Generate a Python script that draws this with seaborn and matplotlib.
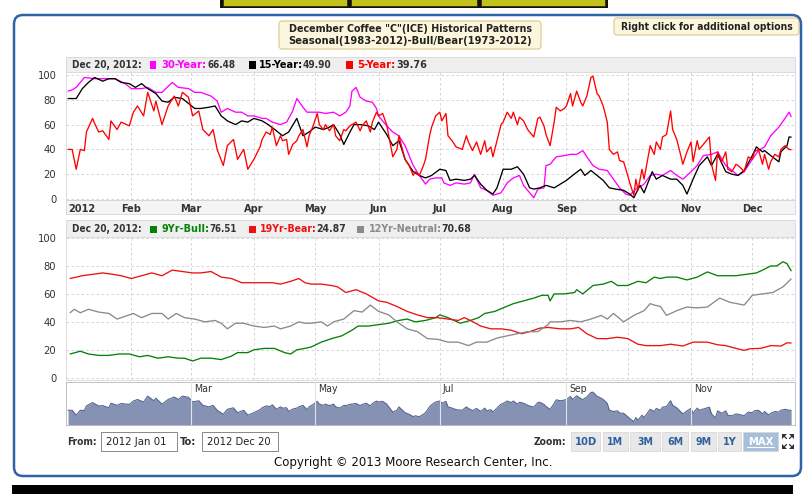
import numpy as np
import pandas as pd
import matplotlib
matplotlib.use("Agg")
import matplotlib.pyplot as plt
from matplotlib import font_manager as fm
from matplotlib.patches import Rectangle, FancyBboxPatch, Polygon
import seaborn as sns

# ---------------- data (day offset from 2012-01-01, value) ----------------
YEAR_START = "2012-01-01"
month_labels = ["2012", "Feb", "Mar", "Apr", "May", "Jun", "Jul", "Aug", "Sep", "Oct", "Nov", "Dec"]
nav_labels = ["Mar", "May", "Jul", "Sep", "Nov"]
y_ticks = [0, 20, 40, 60, 80, 100]

seasonal_names = ["30-Year", "15-Year", "5-Year"]
seasonal_last = ["66.48", "49.90", "39.76"]
regime_names = ["9Yr-Bull", "19Yr-Bear", "12Yr-Neutral"]
regime_last = ["76.51", "24.87", "70.68"]

s30 = [(0,87),(2,88),(4,90),(6,94),(8,98),(13,97),(18,97),(23,97),(28,93),(31,89),(36,89),(39,90),
       (43,86),(46,86),(51,94),(54,90),(59,89),(62,86),(65,86),(70,83),(73,79),(75,70),(78,73),(82,70),
       (85,70),(88,67),(91,67),(95,65),(97,65),(100,62),(104,60),(107,62),(110,71),(112,81),(115,74),
       (117,70),(120,70),(123,70),(126,69),(130,70),(133,67),(136,70),(138,75),(139,87),(141,90),(143,82),
       (146,79),(149,78),(151,73),(152,67),(156,59),(159,54),(162,51),(165,43),(167,35),(169,27),(172,19),
       (175,12),(177,16),(180,17),(183,17),(184,13),(187,11),(190,13),(194,12),(197,13),(199,20),(202,9),
       (205,7),(208,3),(212,5),(215,13),(218,17),(221,19),(223,11),(225,7),(228,1),(230,8),(233,9),
       (234,27),(236,28),(239,34),(243,35),(246,36),(249,36),(252,39),(254,34),(257,27),(260,24),(264,23),
       (267,16),(270,9),(273,4),(275,3),(278,8),(282,12),(285,19),(288,20),(291,19),(295,23),(298,19),
       (301,16),(305,22),(308,27),(311,35),(315,36),(318,38),(322,27),(325,23),(328,19),(331,22),(335,32),
       (338,39),(341,42),(344,51),(348,58),(351,65),(353,70),(354,66.48)]

s15 = [(0,81),(4,81),(7,89),(10,94),(13,98),(17,95),(20,97),(23,97),(26,94),(30,93),(33,90),(36,93),
       (39,89),(43,85),(46,79),(49,78),(52,82),(56,81),(59,77),(62,73),(65,73),(69,74),(72,75),(75,67),
       (78,63),(82,60),(85,63),(88,62),(91,65),(95,63),(98,60),(102,55),(105,51),(108,54),(112,65),
       (115,51),(118,54),(121,58),(125,56),(128,58),(130,60),(133,52),(135,44),(138,54),(140,60),(143,60),
       (147,59),(150,56),(152,62),(156,52),(159,43),(162,47),(165,32),(169,22),(172,19),(175,17),(178,19),
       (182,24),(185,23),(187,15),(190,16),(194,15),(197,16),(199,19),(202,12),(205,7),(208,4),(210,9),
       (213,24),(217,24),(220,26),(223,20),(226,9),(228,8),(231,9),(234,11),(238,9),(241,12),(244,15),
       (247,19),(251,24),(253,19),(256,23),(259,19),(262,15),(265,9),(268,8),(272,7),(275,4),(277,1),
       (280,11),(282,5),(286,22),(288,16),(291,19),(295,16),(298,16),(301,11),(303,4),(306,16),(309,27),
       (313,34),(315,27),(318,36),(322,22),(325,20),(328,19),(331,23),(335,35),(337,42),(340,38),(341,39),
       (344,35),(348,30),(349,38),(352,43),(353,50),(354,49.90)]

s5 = [(0,40),(2,40),(4,24),(6,40),(8,39),(9,54),(12,65),(13,61),(15,54),(17,55),(20,48),(21,63),
      (24,56),(26,62),(30,59),(32,70),(34,75),(37,67),(39,86),(42,71),(43,79),(46,60),(49,75),(52,83),
      (54,75),(56,86),(59,82),(61,67),(64,71),(66,56),(69,51),(71,56),(73,40),(76,27),(78,43),(81,48),
      (83,32),(86,40),(88,24),(91,32),(94,42),(95,48),(97,54),(99,52),(100,58),(102,43),(104,51),(105,47),
      (107,48),(108,36),(110,44),(112,47),(113,51),(115,56),(117,42),(118,51),(120,59),(122,69),(123,60),
      (125,56),(126,60),(128,55),(130,60),(131,51),(133,47),(135,56),(136,55),(138,59),(141,62),(143,55),
      (144,59),(146,63),(148,54),(149,62),(151,70),(152,67),(154,69),(156,60),(157,51),(159,34),(161,40),
      (162,51),(164,38),(165,32),(167,27),(169,19),(170,22),(172,19),(174,27),(175,32),(177,51),(178,58),
      (180,67),(182,70),(183,63),(185,69),(186,51),(188,47),(190,42),(193,40),(195,51),(196,46),(198,39),
      (200,46),(202,36),(204,47),(205,38),(207,42),(208,34),(210,47),(212,60),(213,62),(215,70),(217,65),
      (218,70),(220,60),(221,66),(223,63),(225,56),(226,54),(228,50),(230,65),(231,66),(233,59),(234,52),
      (236,43),(238,62),(239,74),(241,71),(243,73),(244,75),(246,85),(247,75),(249,87),(251,78),(252,75),
      (254,83),(256,98),(257,99),(259,85),(260,83),(262,75),(264,62),(265,40),(267,36),(269,38),(270,31),
      (272,30),(274,19),(275,13),(277,3),(278,16),(279,7),(281,24),(282,16),(285,43),(287,36),(288,46),
      (290,40),(291,50),(293,52),(295,71),(296,56),(298,48),(300,35),(301,28),(303,38),(305,46),(306,30),
      (308,47),(309,40),(311,44),(314,50),(315,28),(317,15),(318,38),(320,30),(322,38),(323,24),(325,22),
      (327,28),(328,27),(330,24),(331,22),(333,34),(335,32),(336,38),(338,40),(340,28),(341,36),(343,24),
      (344,30),(346,36),(348,34),(349,40),(351,43),(353,40),(354,39.76)]

bull = [(1,17),(6,19),(10,17),(15,16),(20,16),(25,17),(30,17),(35,15),(39,16),(44,14),(49,15),(54,14),
        (57,14),(61,12),(65,14),(70,14),(75,13),(80,15.5),(83,18),(88,18),(91,20),(96,21),(101,21),
        (106,18),(109,17),(112,20),(116,21),(119,22),(124,25.5),(129,28),(134,30),(139,34),(142,37),
        (147,37),(152,38),(157,39),(162,41),(166,42),(170,40),(175,41),(180,43),(182,45),(186,43),(189,41),
        (192,39),(197,41),(201,43),(204,46),(209,47.5),(214,50.6),(218,53),(223,55),(228,57),(232,59),
        (235,59),(236,55),(238,60),(243,60),(248,61),(249,63),(252,60),(257,66),(262,67),(266,69),(269,66),
        (274,66),(279,69),(283,68),(287,72),(290,71),(293,72),(298,72),(303,70),(308,72),(313,75.7),
        (318,73),(322,73),(327,73),(332,74),(337,75),(340,77),(344,80),(347,80),(350,83),(352,81.6),
        (354,76.51)]

bear = [(1,71),(7,73),(12,74),(17,75),(22,74),(26,73),(31,71),(36,73),(41,75),(46,73),(51,77),(56,76),
        (61,75),(65,75),(70,76),(75,72),(80,71),(85,68),(90,68),(95,68),(100,68),(104,67),(109,69),
        (113,71),(116,68),(119,67),(124,67),(129,66),(132,65),(136,61),(141,63),(146,60),(152,55),(156,54),
        (161,51),(166,47.5),(171,45),(176,43),(181,43),(186,42),(191,41),(194,43),(197,41),(202,37),
        (207,35),(212,35),(217,34),(222,31.5),(226,33),(231,35.5),(235,36),(241,35),(246,35),(250,36),
        (254,31.5),(259,28),(264,28),(269,29),(274,28),(279,24),(283,23),(290,23),(295,24),(301,22.7),
        (306,25.5),(313,25.5),(318,23.6),(322,23),(327,21),(331,19.6),(334,20.8),(339,21),(344,23),
        (349,22.7),(352,25),(354,24.87)]

neutral = [(1,46.5),(3,49),(6,46.5),(10,49),(15,47),(20,46),(24,42),(28,44),(32,46),(36,43),(41,46),
           (46,46),(49,42),(53,46),(57,43),(62,42),(67,40),(72,41),(75,39),(78,35),(82,39),(86,39),(91,37),
           (96,36),(101,37),(104,35),(109,37),(113,40),(116,39),(119,39),(124,40),(127,37),(130,40),(135,42),
           (140,48),(144,47),(148,52),(152,47.5),(157,45),(161,40),(166,35),(171,33),(176,28),(181,27.5),
           (186,25.5),(191,25.5),(196,23),(200,25.5),(205,25.5),(210,28.4),(215,30),(220,31.5),(225,33),
           (230,33),(235,38),(236,40),(241,40),(246,41),(251,40),(256,42),(261,44.6),(264,42),(267,46),
           (272,40),(277,44.6),(282,48),(285,53),(287,52),(290,51),(293,44.6),(298,48),(303,50.6),(308,50),
           (313,50.6),(319,57),(324,54),(331,52),(335,59),(340,60),(345,61),(350,65),(354,70.68)]

# ---------------- font choice (narrow face if one is installed) ----------------
_fonts = {(f.name, f.stretch) for f in fm.fontManager.ttflist}
if any(n == "Liberation Sans Narrow" for n, _ in _fonts):
    FAM, STRETCH = "Liberation Sans Narrow", "normal"
elif any(n == "DejaVu Sans" and s in ("condensed", "semi-condensed") for n, s in _fonts):
    FAM, STRETCH = "DejaVu Sans", "condensed"
else:
    FAM, STRETCH = "Liberation Sans", "normal"

# ---------------- helpers ----------------
W, H = 806, 494
base = pd.Timestamp(YEAR_START)


def series(pairs):
    d, v = zip(*pairs)
    return base + pd.to_timedelta(list(d), unit="D"), np.array(v, dtype=float)


sns.set_theme(style="white")
plt.rcParams["font.family"] = [FAM, "DejaVu Sans"]
plt.rcParams["font.stretch"] = STRETCH
plt.rcParams["axes.unicode_minus"] = False

fig = plt.figure(figsize=(W / 100, H / 100), dpi=100)
fig.patch.set_facecolor("white")
renderer = fig.canvas.get_renderer()


def frac(x0, y0, x1, y1):
    return [x0 / W, 1 - y1 / H, (x1 - x0) / W, (y1 - y0) / H]


def box(x0, y0, x1, y1, fc, ec="none", lw=0.8, z=-5, rounding=0.0):
    if rounding > 0:
        p = FancyBboxPatch((x0 / 100, (H - y1) / 100), (x1 - x0) / 100, (y1 - y0) / 100,
                           boxstyle=f"round,pad=0,rounding_size={rounding/100}",
                           transform=fig.dpi_scale_trans, fc=fc, ec=ec, lw=lw, zorder=z)
    else:
        p = Rectangle((x0 / 100, (H - y1) / 100), (x1 - x0) / 100, (y1 - y0) / 100,
                      transform=fig.dpi_scale_trans, fc=fc, ec=ec, lw=lw, zorder=z)
    fig.add_artist(p)
    return p


def ftext(x, y, s, width=None, **kw):
    """Place text at pixel coords; shrink it only if it is wider than the reference width."""
    kw.setdefault("ha", "left")
    kw.setdefault("va", "center")
    kw.setdefault("fontstretch", STRETCH)
    t = fig.text(x / W, 1 - y / H, s, **kw)
    if width is not None:
        w = t.get_window_extent(renderer).width
        if w > width * 1.06:
            t.set_fontsize(t.get_fontsize() * width * 1.06 / w)
    return t


month_starts = pd.date_range(YEAR_START, periods=12, freq="MS")
x_left = base - pd.Timedelta(days=1.0)
x_right = base + pd.Timedelta(days=355.9)
GRID = dict(color="#cfcfcf", lw=0.6, ls=(0, (3, 3)))
DARK = "#333333"

# ---------------- page decorations ----------------
box(220, -2, 608, 8, "#111111", z=-6)
for bx0, bx1 in [(223, 347), (351, 477), (481, 605)]:
    box(bx0, -2, bx1, 6, "#c2c21c", ec="#333300", lw=0.6, z=-5)
box(12, 485, 793, 495, "black", z=-6)
box(14, 15, 801, 476, "none", ec="#2f63a6", lw=1.8, z=50, rounding=9)

# title boxes
box(279, 21, 541, 49, "#fcf7dc", ec="#d9c98f", lw=0.8, z=5, rounding=3)
ftext(410.5, 29.5, 'December Coffee "C"(ICE) Historical Patterns', width=231, ha="center",
      fontsize=8, fontweight="bold", color="#222222", zorder=6)
ftext(410.5, 41.5, "Seasonal(1983-2012)-Bull/Bear(1973-2012)", width=237, ha="center",
      fontsize=8, fontweight="bold", color="#222222", zorder=6)
box(614, 18, 799, 35, "#fcf7dc", ec="#d9c98f", lw=0.8, z=5, rounding=3)
ftext(707, 27, "Right click for additional options", width=162, ha="center", fontsize=8,
      color="#222222", fontweight="bold", zorder=6)


# ---------------- header strips ----------------
def header(ytop, ybot, items):
    box(66, ytop, 795, ybot, "#efefef", ec="#d6d6d6", lw=0.6, z=-4)
    yc = (ytop + ybot) / 2 + 0.5
    ftext(72, yc, "Dec 20, 2012:", width=66, fontsize=8, fontweight="bold", color=DARK)
    for (sx, col, nx, name, nw, vx, val, vw) in items:
        box(sx, yc - 3.5, sx + 6.5, yc + 3.5, col, z=2)
        ftext(nx, yc, name + ":", width=nw, fontsize=8, fontweight="bold", color=col)
        ftext(vx, yc, val, width=vw, fontsize=8, fontweight="bold", color=DARK)


C30, C15, C5 = "#ff00ff", "#000000", "#ff0000"
CBULL, CBEAR, CNEU = "#058205", "#ee1111", "#8a8a8a"

header(57, 72, [(149.5, C30, 161, seasonal_names[0], 44, 208, seasonal_last[0], 27),
                (249, C15, 259, seasonal_names[1], 42, 303, seasonal_last[1], 27),
                (346, C5, 357, seasonal_names[2], 37, 396, seasonal_last[2], 29)])
header(220, 237, [(150, CBULL, 161, regime_names[0], 45, 209, regime_last[0], 26),
                  (249, CBEAR, 260, regime_names[1], 54, 316, regime_last[1], 28),
                  (357, CNEU, 369, regime_names[2], 69, 441, regime_last[2], 28)])

# x label strip under top panel
box(66, 200, 795, 214, "#f4f4f4", ec="#d6d6d6", lw=0.6, z=-4)


def style_axis(ax, ylim):
    ax.set_xlim(x_left, x_right)
    ax.set_ylim(*ylim)
    ax.set_yticks(y_ticks)
    ax.set_yticklabels([str(t) for t in y_ticks])
    ax.grid(False)
    for t in y_ticks:
        ax.axhline(t, zorder=0, **GRID)
    for m in month_starts[1:]:
        ax.axvline(m, zorder=0, **GRID)
    for s in ax.spines.values():
        s.set_color("#d6d6d6")
        s.set_linewidth(0.6)
    ax.tick_params(axis="y", labelsize=8, colors=DARK, length=0, pad=7)
    ax.set_xlabel("")
    ax.set_ylabel("")
    ax.set_facecolor("white")


# ---------------- top panel: seasonal ----------------
ax1 = fig.add_axes(frac(66, 72, 795, 200))
for pairs, col in [(s30, C30), (s15, C15), (s5, C5)]:
    d, v = series(pairs)
    sns.lineplot(x=d, y=v, ax=ax1, color=col, linewidth=0.95, errorbar=None)
style_axis(ax1, (-0.8, 102.4))
ax1.set_xticks(month_starts)
ax1.set_xticklabels(month_labels)
ax1.tick_params(axis="x", labelsize=7.8, colors=DARK, length=0, pad=3)
for i, lbl in enumerate(ax1.get_xticklabels()):
    lbl.set_fontweight("bold")
    if i == 0:
        lbl.set_ha("left")

# ---------------- bottom panel: bull / bear / neutral ----------------
ax2 = fig.add_axes(frac(66, 237, 795, 380))
for pairs, col in [(bull, CBULL), (bear, CBEAR), (neutral, CNEU)]:
    d, v = series(pairs)
    sns.lineplot(x=d, y=v, ax=ax2, color=col, linewidth=0.95, errorbar=None)
style_axis(ax2, (-1.6, 100.7))
ax2.set_xticks([])

# ---------------- navigator ----------------
axn = fig.add_axes(frac(66, 382, 795, 425))
dn, vn = series(s5)
axn.fill_between(dn, vn, -8, color="#8592b4", lw=0, zorder=1)
sns.lineplot(x=dn, y=vn, ax=axn, color="#56668e", linewidth=0.8, errorbar=None, zorder=2)
axn.set_xlim(x_left, x_right)
axn.set_ylim(-8, 132)
axn.set_xticks([])
axn.set_yticks([])
axn.set_xlabel("")
axn.set_ylabel("")
axn.set_facecolor("white")
for s in axn.spines.values():
    s.set_color("#b8b8b8")
    s.set_linewidth(0.6)
nav_starts = [m for m, lab in zip(month_starts, month_labels) if lab in nav_labels]
for m, lab in zip(nav_starts, nav_labels):
    axn.axvline(m, color="#e4e4e4", lw=0.8, zorder=3)
    axn.text(m + pd.Timedelta(days=1.5), 127, lab, ha="left", va="top", fontsize=7.6,
             color=DARK, zorder=4)

# ---------------- range inputs & zoom buttons ----------------
ftext(67, 441.5, "From:", width=28, fontsize=8, fontweight="bold", color=DARK)
box(101, 432, 177, 451, "white", ec="#888888", lw=0.7, z=2)
ftext(106, 441.5, "2012 Jan 01", width=60, fontsize=8.2, color="#222222")
ftext(180, 441.5, "To:", width=18, fontsize=8, fontweight="bold", color=DARK)
box(202, 432, 278, 451, "white", ec="#888888", lw=0.7, z=2)
ftext(207, 441.5, "2012 Dec 20", width=60, fontsize=8.2, color="#222222")

ftext(566, 441.5, "Zoom:", width=31, ha="right", fontsize=8, fontweight="bold", color=DARK)
buttons = [("10D", 571, 600, 21), ("1M", 603, 628, 15), ("3M", 630, 660, 15), ("6M", 662, 688, 15),
           ("9M", 691, 716, 15), ("1Y", 718, 741, 13), ("MAX", 743, 778, 27)]
for lab, bx0, bx1, tw in buttons:
    sel = lab == "MAX"
    box(bx0, 432, bx1, 451, "#a8bfdc" if sel else "#e8e8e8", ec="#d4d4d4", lw=0.5, z=2)
    ftext((bx0 + bx1) / 2, 441.5, lab, width=tw, ha="center", fontsize=8, fontweight="bold",
          color="white" if sel else "#2f5f9f", zorder=3)
fig.add_artist(plt.Line2D([747 / W, 774 / W], [1 - 447 / H, 1 - 447 / H], color="white",
                          lw=0.8, zorder=4))
# expand icon: four outward corner arrows
icon = [((782, 434), (787, 434), (782, 439)), ((794, 434), (789, 434), (794, 439)),
        ((782, 449), (787, 449), (782, 444)), ((794, 449), (789, 449), (794, 444))]
for tri in icon:
    pts = [(px / 100, (H - py) / 100) for px, py in tri]
    fig.add_artist(Polygon(pts, closed=True, transform=fig.dpi_scale_trans, fc="#333333",
                           ec="none", zorder=4))
for (xa, ya, xb, yb) in [(783, 435, 786.5, 438.5), (793, 435, 789.5, 438.5),
                         (783, 448, 786.5, 444.5), (793, 448, 789.5, 444.5)]:
    fig.add_artist(plt.Line2D([xa / W, xb / W], [1 - ya / H, 1 - yb / H], color="#333333", lw=0.9))

ftext(413.5, 462, "Copyright \u00a9 2013 Moore Research Center, Inc.", width=263, ha="center",
      fontsize=9.5, color="#111111")

fig.savefig("out.png", dpi=100, facecolor="white")
